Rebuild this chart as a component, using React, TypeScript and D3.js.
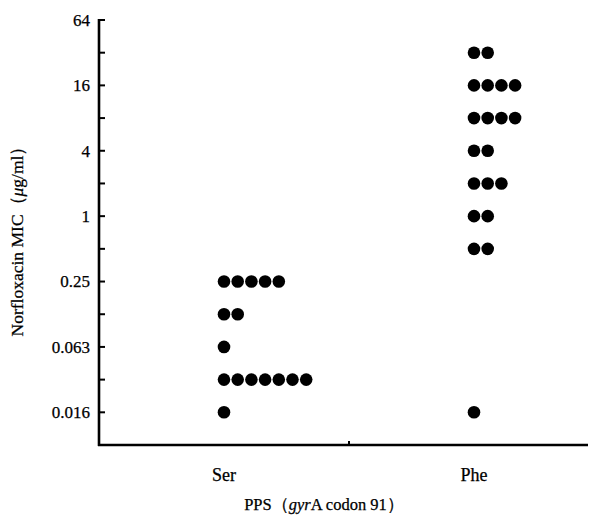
import React from "react";
import * as d3 from "d3";

const categories = ["Ser", "Phe"];
const serMic = [0.25, 0.125, 0.0625, 0.03125, 0.015625];
const serCount = [5, 2, 1, 7, 1];
const pheMic = [32, 16, 8, 4, 2, 1, 0.5, 0.015625];
const pheCount = [2, 4, 4, 2, 3, 2, 2, 1];
const tickValues = [64, 32, 16, 8, 4, 2, 1, 0.5, 0.25, 0.125, 0.0625, 0.03125, 0.015625];
const tickLabels = ["64", "", "16", "", "4", "", "1", "", "0.25", "", "0.063", "", "0.016"];

const W = 591;
const H = 521;
const left = 99;
const top = 20;
const bottom = 445;
const right = 588;
const font = "'Liberation Serif', 'Times New Roman', serif";

export default function App() {
  const y = d3.scaleLog().base(2).domain([0.0078125, 64]).range([bottom, top]);
  const x = d3.scalePoint<string>().domain(categories).range([left, 599]).padding(0.5);
  const step = 13.7;
  const r = 6.3;

  const dots: { cx: number; cy: number; key: string }[] = [];
  const groups = [
    { cat: "Ser", mic: serMic, count: serCount },
    { cat: "Phe", mic: pheMic, count: pheCount },
  ];
  groups.forEach((g) => {
    g.mic.forEach((m, i) => {
      for (let k = 0; k < g.count[i]; k++) {
        dots.push({ cx: (x(g.cat) as number) + k * step, cy: y(m), key: `${g.cat}-${i}-${k}` });
      }
    });
  });

  const textStyle = { stroke: "#000", strokeWidth: 0.25 };

  return (
    <svg width={W} height={H} style={{ position: "absolute", left: 0, top: 0, background: "#fff" }}>
      <line x1={left} x2={left} y1={top - 1} y2={bottom + 1} stroke="#000" strokeWidth={2.6} />
      <line x1={left - 1} x2={right} y1={bottom} y2={bottom} stroke="#000" strokeWidth={2.6} />
      <line x1={349} x2={349} y1={bottom} y2={bottom - 4} stroke="#000" strokeWidth={2} />
      {tickValues.map((v, i) => (
        <g key={v}>
          <line x1={left} x2={left + 6} y1={y(v)} y2={y(v)} stroke="#000" strokeWidth={2} />
          {tickLabels[i] && (
            <text x={left - 9} y={y(v)} dy="0.35em" textAnchor="end" fontFamily={font} fontSize={17} fill="#000" style={textStyle}>
              {tickLabels[i]}
            </text>
          )}
        </g>
      ))}
      {dots.map((d) => (
        <circle key={d.key} cx={d.cx} cy={d.cy} r={r} fill="#000" />
      ))}
      {categories.map((c) => (
        <text key={c} x={x(c) as number} y={481} textAnchor="middle" fontFamily={font} fontSize={18} fill="#000" style={textStyle}>
          {c}
        </text>
      ))}
      <text x={324} y={510} textAnchor="middle" fontFamily={font} fontSize={16.5} fill="#000" style={textStyle}>
        PPS（<tspan fontStyle="italic">gyr</tspan>A codon 91）
      </text>
      <text
        transform={`translate(23,237) rotate(-90)`}
        textAnchor="middle"
        fontFamily={font}
        fontSize={17.5}
        fill="#000"
        style={textStyle}
      >
        Norfloxacin MIC（<tspan fontStyle="italic">μ</tspan>g/ml）
      </text>
    </svg>
  );
}
